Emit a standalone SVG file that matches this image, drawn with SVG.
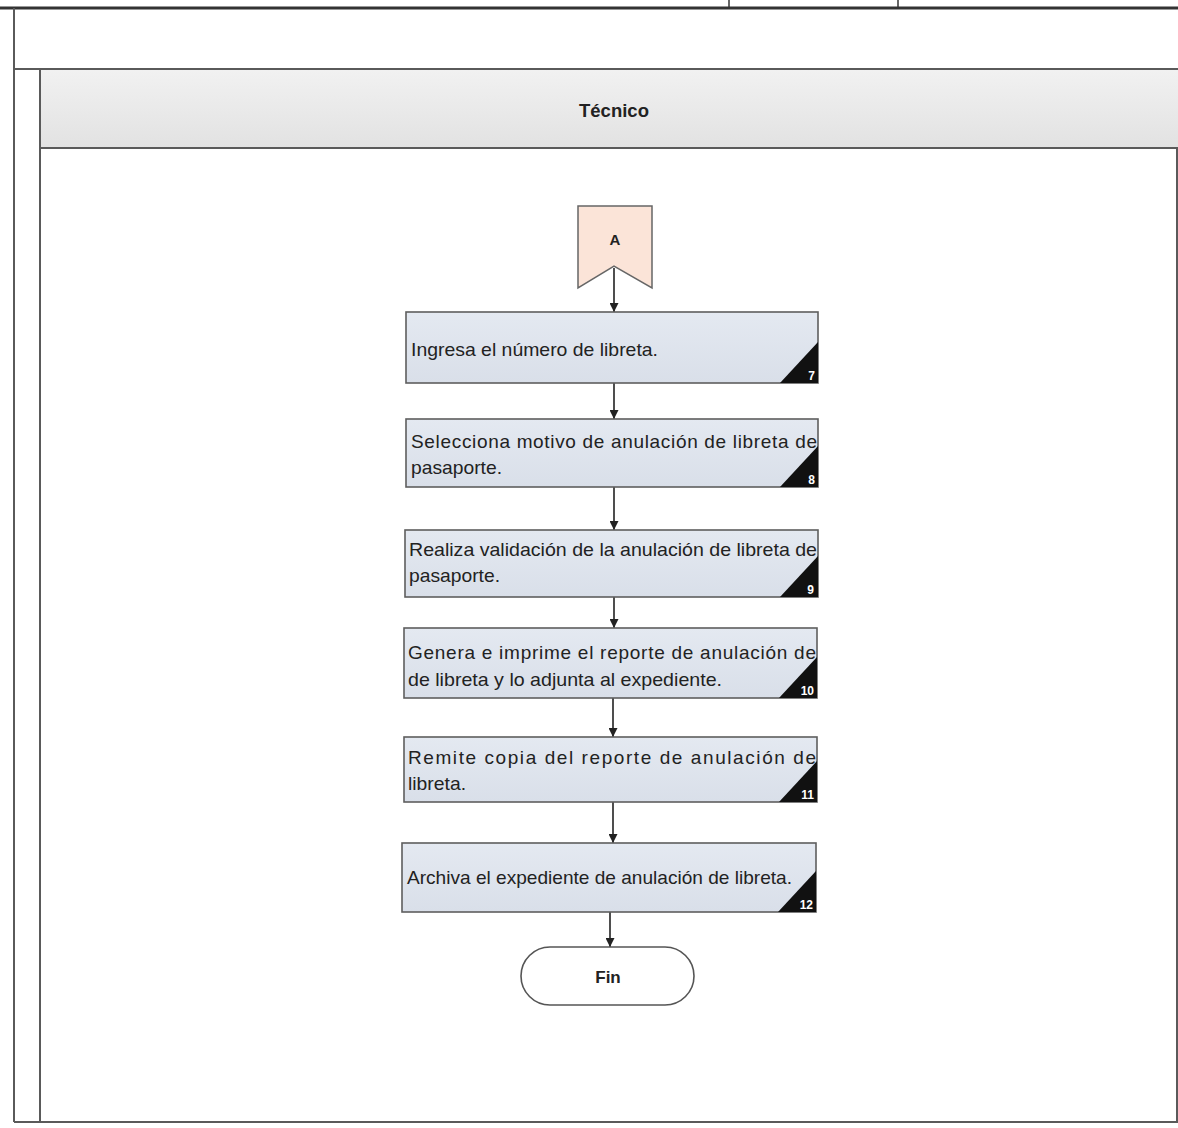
<svg xmlns="http://www.w3.org/2000/svg" width="1178" height="1128" viewBox="0 0 1178 1128">
<defs>
<style>
.frame{fill:none;stroke:#5a5a5a;stroke-width:2}
.box{fill:url(#boxg);stroke:#5e5e5e;stroke-width:1.6}
.txt{font-family:"Liberation Sans",Arial,sans-serif;font-size:19px;fill:#222}
.num{font-family:"Liberation Sans",Arial,sans-serif;font-size:12px;font-weight:bold;fill:#fff;text-anchor:end}
.tri{fill:#111}
.bold{font-family:"Liberation Sans",Arial,sans-serif;font-weight:bold;fill:#222;text-anchor:middle}
.conn{stroke:#222;stroke-width:1.6;fill:none;marker-end:url(#arr)}
</style>
<linearGradient id="boxg" x1="0" y1="0" x2="0" y2="1">
<stop offset="0" stop-color="#e4e9f1"/>
<stop offset="1" stop-color="#d9dfe9"/>
</linearGradient>
<linearGradient id="hdr" x1="0" y1="0" x2="0" y2="1">
<stop offset="0" stop-color="#f1f1f1"/>
<stop offset="1" stop-color="#e2e2e2"/>
</linearGradient>
<marker id="arr" viewBox="0 0 10 10" refX="10" refY="5" markerWidth="9" markerHeight="9" markerUnits="userSpaceOnUse" orient="auto">
<path d="M0,0 L10,5 L0,10 z" fill="#222"/>
</marker>
</defs>
<rect x="0" y="0" width="1178" height="1128" fill="#fff"/>
<g id="frame">
<rect x="40" y="70" width="1138" height="78" fill="url(#hdr)"/>
<line x1="0" y1="8" x2="1178" y2="8" stroke="#333" stroke-width="3"/>
<line x1="729" y1="0" x2="729" y2="8" stroke="#333" stroke-width="1.5"/>
<line x1="898" y1="0" x2="898" y2="8" stroke="#333" stroke-width="1.5"/>
<line x1="14" y1="8" x2="14" y2="1122" class="frame"/>
<line x1="14" y1="69" x2="1178" y2="69" class="frame"/>
<line x1="40" y1="69" x2="40" y2="1122" class="frame"/>
<line x1="40" y1="148" x2="1178" y2="148" class="frame"/>
<line x1="14" y1="1122" x2="1178" y2="1122" class="frame"/>
<line x1="1177" y1="148" x2="1177" y2="1122" class="frame" stroke-width="1.5"/>
<text x="614" y="117" class="bold" font-size="18.5">Técnico</text>
</g>
<g id="connectors">
<line x1="614" y1="268" x2="614" y2="312" class="conn"/>
<line x1="614" y1="383" x2="614" y2="419" class="conn"/>
<line x1="614" y1="487" x2="614" y2="530" class="conn"/>
<line x1="614" y1="597" x2="614" y2="628" class="conn"/>
<line x1="613" y1="698" x2="613" y2="737" class="conn"/>
<line x1="613" y1="802" x2="613" y2="843" class="conn"/>
<line x1="610" y1="912" x2="610" y2="947" class="conn"/>
</g>
<g id="nodeA">
<path d="M578,206 L652,206 L652,288 L614,266 L578,288 Z" fill="#fbe4d8" stroke="#666" stroke-width="1.5"/>
<text x="615" y="245" class="bold" font-size="15">A</text>
</g>
<g id="step7">
<rect x="406" y="312" width="412" height="71" class="box"/>
<path d="M780,383 L818,383 L818,342 Z" class="tri"/>
<text x="411" y="356" class="txt" textLength="247" lengthAdjust="spacingAndGlyphs">Ingresa el número de libreta.</text>
<text x="815" y="380" class="num">7</text>
</g>
<g id="step8">
<rect x="406" y="419" width="412" height="68" class="box"/>
<path d="M780,487 L818,487 L818,446 Z" class="tri"/>
<text x="411" y="448" class="txt" textLength="406" lengthAdjust="spacing">Selecciona motivo de anulación de libreta de</text>
<text x="411" y="474" class="txt" textLength="91" lengthAdjust="spacingAndGlyphs">pasaporte.</text>
<text x="815" y="484" class="num">8</text>
</g>
<g id="step9">
<rect x="405" y="530" width="413" height="67" class="box"/>
<path d="M780,597 L818,597 L818,556 Z" class="tri"/>
<text x="409" y="556" class="txt" textLength="408" lengthAdjust="spacingAndGlyphs">Realiza validación de la anulación de libreta de</text>
<text x="409" y="582" class="txt" textLength="91" lengthAdjust="spacingAndGlyphs">pasaporte.</text>
<text x="814" y="594" class="num">9</text>
</g>
<g id="step10">
<rect x="404" y="628" width="413" height="70" class="box"/>
<path d="M779,698 L817,698 L817,657 Z" class="tri"/>
<text x="408" y="659" class="txt" textLength="408" lengthAdjust="spacing">Genera e imprime el reporte de anulación de</text>
<text x="408" y="686" class="txt" textLength="314" lengthAdjust="spacingAndGlyphs">de libreta y lo adjunta al expediente.</text>
<text x="814" y="695" class="num">10</text>
</g>
<g id="step11">
<rect x="404" y="737" width="413" height="65" class="box"/>
<path d="M779,802 L817,802 L817,761 Z" class="tri"/>
<text x="408" y="764" class="txt" textLength="408" lengthAdjust="spacing">Remite copia del reporte de anulación de</text>
<text x="408" y="790" class="txt" textLength="58" lengthAdjust="spacingAndGlyphs">libreta.</text>
<text x="814" y="799" class="num">11</text>
</g>
<g id="step12">
<rect x="402" y="843" width="414" height="69" class="box"/>
<path d="M778,912 L816,912 L816,871 Z" class="tri"/>
<text x="407" y="884" class="txt" textLength="385" lengthAdjust="spacingAndGlyphs">Archiva el expediente de anulación de libreta.</text>
<text x="813" y="909" class="num">12</text>
</g>
<g id="fin">
<rect x="521" y="947" width="173" height="58" rx="29" ry="29" fill="#fff" stroke="#555" stroke-width="1.6"/>
<text x="608" y="983" class="bold" font-size="17">Fin</text>
</g>
</svg>
